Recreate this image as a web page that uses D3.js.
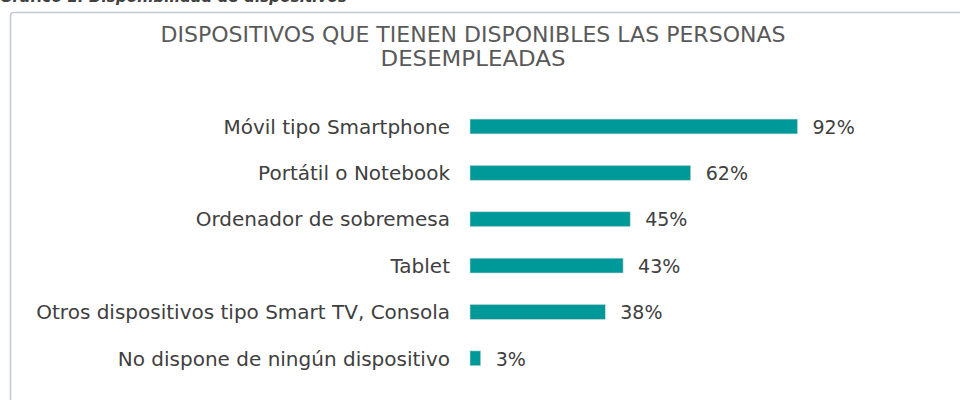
<!DOCTYPE html>
<html>
<head>
<meta charset="utf-8">
<script src="https://cdn.jsdelivr.net/npm/d3@7"></script>
<style>
  body { margin: 0; background: #fff; }
  svg { display: block; font-family: "DejaVu Sans", sans-serif; }
</style>
</head>
<body>
<script>
// chart data
var categories = [
  "Móvil tipo Smartphone",
  "Portátil o Notebook",
  "Ordenador de sobremesa",
  "Tablet",
  "Otros dispositivos tipo Smart TV, Consola",
  "No dispone de ningún dispositivo"
];
var values = [92, 62, 45, 43, 38, 3];
var valueLabels = ["92%", "62%", "45%", "43%", "38%", "3%"];
var titleLines = ["DISPOSITIVOS QUE TIENEN DISPONIBLES LAS PERSONAS", "DESEMPLEADAS"];
var caption = "Gráfico 1. Disponibilidad de dispositivos";

var W = 960, H = 400;
var svg = d3.select("body").append("svg")
	.attr("width", W)
	.attr("height", H);

// caption, cut off by the top edge like in the source image
svg.append("text")
	.attr("x", 0)
	.attr("y", 2)
	.attr("font-size", 15)
	.attr("font-weight", "bold")
	.attr("font-style", "italic")
	.attr("fill", "#404040")
	.attr("textLength", 347)
	.attr("lengthAdjust", "spacingAndGlyphs")
	.text(caption);

// chart frame
svg.append("rect")
	.attr("x", 10.5)
	.attr("y", 12.5)
	.attr("width", 1000)
	.attr("height", 500)
	.attr("rx", 3)
	.attr("fill", "#fff")
	.attr("stroke", "#c3cad8")
	.attr("stroke-width", 1.6);

// title
svg.selectAll(".title")
	.data(titleLines)
	.enter()
	.append("text")
	.attr("class", "title")
	.attr("x", 473)
	.attr("y", function(d, i){ return 42 + i * 24; })
	.attr("text-anchor", "middle")
	.attr("font-size", 21)
	.attr("fill", "#595959")
	.attr("textLength", function(d, i){ return i == 0 ? 625 : 185; })
	.attr("lengthAdjust", "spacingAndGlyphs")
	.text(function(d){ return d; });

var x = d3.scaleLinear()
	.domain([0, 100])
	.range([470, 470 + 356]);

var y = d3.scaleBand()
	.domain(categories)
	.range([103.3, 381.5])
	.paddingInner(0.68)
	.paddingOuter(0.34);

// bars
svg.selectAll(".bar")
	.data(values)
	.enter()
	.append("rect")
	.attr("class", "bar")
	.attr("x", x(0))
	.attr("y", function(d, i){ return y(categories[i]); })
	.attr("width", function(d){ return x(d) - x(0); })
	.attr("height", y.bandwidth())
	.attr("fill", "#009999")
	.attr("stroke", "#c8d6d6")
	.attr("stroke-width", 0.6);

// category labels
svg.selectAll(".cat")
	.data(categories)
	.enter()
	.append("text")
	.attr("class", "cat")
	.attr("x", 450)
	.attr("y", function(d){ return y(d) + y.bandwidth() / 2; })
	.attr("dy", "0.36em")
	.attr("text-anchor", "end")
	.attr("font-size", 20)
	.attr("fill", "#404040")
	.text(function(d){ return d; });

// value labels
svg.selectAll(".val")
	.data(values)
	.enter()
	.append("text")
	.attr("class", "val")
	.attr("x", function(d){ return x(d) + 15; })
	.attr("y", function(d, i){ return y(categories[i]) + y.bandwidth() / 2; })
	.attr("dy", "0.38em")
	.attr("font-size", 19)
	.attr("fill", "#404040")
	.text(function(d, i){ return valueLabels[i]; });
</script>
</body>
</html>
